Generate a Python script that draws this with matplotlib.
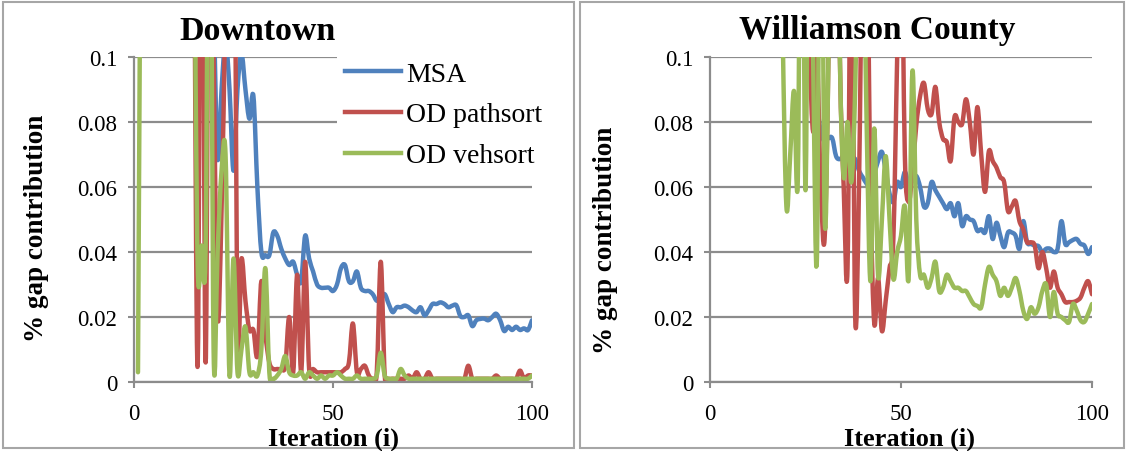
import matplotlib.pyplot as plt
from matplotlib.path import Path
from matplotlib.patches import PathPatch, Rectangle
from matplotlib.lines import Line2D

# iterations 1..100, values (0.2 = off the top of the chart)
iters = list(range(1, 101))

down_msa = [0.2, 0.2, 0.2, 0.2, 0.2, 0.2, 0.2, 0.2, 0.2, 0.2,
            0.2, 0.2, 0.2, 0.2, 0.2, 0.2, 0.2, 0.2, 0.2, 0.12,
            0.069, 0.09, 0.105, 0.09, 0.065, 0.09, 0.101, 0.09, 0.081, 0.088,
            0.06, 0.040, 0.039, 0.039, 0.046, 0.045, 0.041, 0.038, 0.036, 0.037,
            0.033, 0.031, 0.045, 0.038, 0.034, 0.030, 0.029, 0.029, 0.029, 0.028,
            0.030, 0.035, 0.036, 0.031, 0.031, 0.034, 0.029, 0.028, 0.028, 0.027,
            0.025, 0.026, 0.027, 0.024, 0.0215, 0.023, 0.023, 0.0235, 0.023, 0.022,
            0.0215, 0.023, 0.0205, 0.022, 0.024, 0.024, 0.0245, 0.024, 0.023, 0.0235,
            0.0236, 0.0203, 0.020, 0.0205, 0.0172, 0.019, 0.0194, 0.0195, 0.019, 0.020,
            0.021, 0.019, 0.0157, 0.017, 0.016, 0.017, 0.016, 0.0165, 0.016, 0.019]
down_path = [0.2, 0.2, 0.2, 0.2, 0.2, 0.2, 0.2, 0.2, 0.2, 0.2,
             0.2, 0.2, 0.2, 0.2, 0.15, 0.005, 0.2, 0.006, 0.2, 0.1,
             0.02, 0.053, 0.12, 0.2, 0.2, 0.017, 0.038, 0.025, 0.016, 0.016,
             0.008, 0.031, 0.015, 0.006, 0.004, 0.004, 0.004, 0.005, 0.020, 0.003,
             0.033, 0.003, 0.037, 0.004, 0.004, 0.003, 0.003, 0.003, 0.003, 0.003,
             0.003, 0.003, 0.004, 0.006, 0.018, 0.003, 0.004, 0.005, 0.002, 0.001,
             0.003, 0.037, 0.002, 0.001, 0.001, 0.001, 0.001, 0.001, 0.002, 0.001,
             0.003, 0.001, 0.001, 0.003, 0.001, 0.001, 0.001, 0.001, 0.001, 0.001,
             0.001, 0.001, 0.001, 0.005, 0.001, 0.001, 0.001, 0.001, 0.001, 0.001,
             0.002, 0.001, 0.001, 0.001, 0.001, 0.001, 0.0035, 0.001, 0.002, 0.002]
down_veh = [0.003, 0.2, 0.2, 0.2, 0.2, 0.2, 0.2, 0.2, 0.2, 0.2,
            0.2, 0.2, 0.2, 0.2, 0.15, 0.036, 0.042, 0.042, 0.2, 0.010,
            0.04, 0.065, 0.07, 0.002, 0.038, 0.003, 0.01, 0.017, 0.003, 0.003,
            0.002, 0.01, 0.035, 0.003, 0.001, 0.002, 0.004, 0.008, 0.003, 0.002,
            0.002, 0.003, 0.001, 0.003, 0.002, 0.001, 0.002, 0.001, 0.002, 0.002,
            0.003, 0.002, 0.001, 0.001, 0.001, 0.002, 0.001, 0.001, 0.001, 0.001,
            0.002, 0.009, 0.002, 0.001, 0.001, 0.001, 0.004, 0.002, 0.001, 0.001,
            0.001, 0.001, 0.001, 0.001, 0.001, 0.001, 0.001, 0.001, 0.001, 0.001,
            0.001, 0.001, 0.001, 0.001, 0.001, 0.001, 0.001, 0.001, 0.001, 0.001,
            0.001, 0.001, 0.001, 0.001, 0.001, 0.001, 0.001, 0.001, 0.001, 0.002]

will_msa = [0.2, 0.2, 0.2, 0.2, 0.2, 0.2, 0.2, 0.2, 0.2, 0.2,
            0.2, 0.2, 0.2, 0.2, 0.2, 0.2, 0.2, 0.2, 0.2, 0.2,
            0.2, 0.2, 0.2, 0.15, 0.1, 0.094, 0.09, 0.085, 0.077, 0.074,
            0.075, 0.075, 0.0695, 0.0686, 0.07, 0.0726, 0.069, 0.0686, 0.065, 0.063,
            0.061, 0.060, 0.064, 0.068, 0.0708, 0.065, 0.058, 0.0554, 0.0615, 0.06,
            0.0646, 0.061, 0.062, 0.0634, 0.06, 0.054, 0.055, 0.0615, 0.059, 0.057,
            0.055, 0.0532, 0.055, 0.051, 0.055, 0.048, 0.051, 0.050, 0.0495, 0.0465,
            0.047, 0.046, 0.051, 0.044, 0.049, 0.045, 0.0415, 0.046, 0.046, 0.045,
            0.041, 0.0495, 0.043, 0.0425, 0.042, 0.0418, 0.040, 0.041, 0.041, 0.040,
            0.041, 0.0495, 0.0425, 0.043, 0.0437, 0.044, 0.0425, 0.042, 0.0394, 0.0415]
will_path = [0.2, 0.2, 0.2, 0.2, 0.2, 0.2, 0.2, 0.2, 0.2, 0.2,
             0.2, 0.2, 0.2, 0.2, 0.2, 0.2, 0.2, 0.2, 0.2, 0.2,
             0.2, 0.2, 0.2, 0.2, 0.2, 0.11, 0.077, 0.1, 0.06, 0.044,
             0.1, 0.2, 0.2, 0.1, 0.06, 0.035, 0.15, 0.0203, 0.06, 0.15,
             0.15, 0.06, 0.018, 0.032, 0.0157, 0.025, 0.035, 0.044, 0.1, 0.15,
             0.07, 0.0554, 0.065, 0.079, 0.088, 0.092, 0.084, 0.0825, 0.0908, 0.08,
             0.0748, 0.0738, 0.068, 0.0815, 0.080, 0.0794, 0.087, 0.08, 0.070, 0.0846,
             0.07, 0.0585, 0.071, 0.068, 0.066, 0.063, 0.0615, 0.0526, 0.054, 0.0557,
             0.0495, 0.047, 0.043, 0.043, 0.042, 0.035, 0.040, 0.035, 0.029, 0.034,
             0.029, 0.027, 0.0246, 0.0246, 0.0246, 0.025, 0.026, 0.029, 0.031, 0.027]
will_veh = [0.2, 0.2, 0.2, 0.2, 0.2, 0.2, 0.2, 0.2, 0.2, 0.2,
            0.2, 0.2, 0.2, 0.2, 0.2, 0.2, 0.2, 0.2, 0.11, 0.054,
            0.07, 0.0895, 0.063, 0.2, 0.059, 0.2, 0.1, 0.0385, 0.2, 0.051,
            0.1, 0.2, 0.2, 0.1, 0.063, 0.08, 0.0615, 0.09, 0.15, 0.15,
            0.08, 0.031, 0.078, 0.0326, 0.05, 0.0695, 0.05, 0.0317, 0.04, 0.045,
            0.054, 0.032, 0.0957, 0.05, 0.033, 0.033, 0.029, 0.032, 0.037, 0.028,
            0.029, 0.033, 0.031, 0.029, 0.029, 0.028, 0.028, 0.026, 0.024, 0.0234,
            0.023, 0.03, 0.0354, 0.033, 0.031, 0.0265, 0.029, 0.0265, 0.029, 0.032,
            0.028, 0.022, 0.0194, 0.023, 0.021, 0.023, 0.028, 0.030, 0.020, 0.0277,
            0.021, 0.020, 0.019, 0.0185, 0.024, 0.022, 0.019, 0.0185, 0.021, 0.024]

names = ['MSA', 'OD pathsort', 'OD vehsort']
colors = ['#4F81BD', '#C0504D', '#9BBB59']
yticks = [0, 0.02, 0.04, 0.06, 0.08, 0.1]
ylabels = ['0', '0.02', '0.04', '0.06', '0.08', '0.1']
xticks = [0, 50, 100]

W, H = 1127, 452
FONT = 'Liberation Serif'
GRAY = '#8c8c8c'
LW = 3.2


# excel style smoothed line (bezier through every point)
def smooth_path(x, y):
    n = len(x)
    verts = [(x[0], y[0])]
    codes = [Path.MOVETO]
    for i in range(n - 1):
        a = max(i - 1, 0)
        b = min(i + 2, n - 1)
        c1 = (x[i] + (x[i + 1] - x[a]) / 6, y[i] + (y[i + 1] - y[a]) / 6)
        c2 = (x[i + 1] - (x[b] - x[i]) / 6, y[i + 1] - (y[b] - y[i]) / 6)
        verts += [c1, c2, (x[i + 1], y[i + 1])]
        codes += [Path.CURVE4] * 3
    return Path(verts, codes)


def setup(ax):
    ax.set_xlim(0, 100)
    ax.set_ylim(0, 0.1)
    ax.set_yticks(yticks)
    ax.set_yticklabels(ylabels)
    ax.set_xticks(xticks)
    for s in ['top', 'right']:
        ax.spines[s].set_visible(False)
    for s in ['left', 'bottom']:
        ax.spines[s].set_color(GRAY)
        ax.spines[s].set_linewidth(1.6)
    ax.grid(axis='y', color=GRAY, lw=1.6)
    ax.set_axisbelow(True)
    ax.tick_params(axis='y', length=4, width=1.5, color=GRAY, pad=8, labelsize=16.5)
    ax.tick_params(axis='x', length=4, width=1.5, color=GRAY, pad=11, labelsize=16.5)
    for t in ax.get_xticklabels() + ax.get_yticklabels():
        t.set_fontfamily(FONT)


def draw(ax, series):
    for vals, c in zip(series, colors):
        p = PathPatch(smooth_path(iters, vals), fill=False, ec=c, lw=LW,
                      joinstyle='round', capstyle='round')
        ax.add_patch(p)


fig = plt.figure(figsize=(W / 100, H / 100), dpi=100)

# panel frames
for x0, x1 in [(3, 574), (580, 1124)]:
    fig.patches.append(Rectangle((x0 / W, 3 / H), (x1 - x0) / W, (449 - 3) / H,
                                 transform=fig.transFigure, fill=False,
                                 ec='#a6a6a6', lw=1.5))

ax1 = fig.add_axes([134 / W, 69 / H, 398 / W, 325 / H])
ax2 = fig.add_axes([710 / W, 69 / H, 382 / W, 325 / H])
setup(ax1)
setup(ax2)
draw(ax1, [down_msa, down_path, down_veh])
draw(ax2, [will_msa, will_path, will_veh])

handles = [Line2D([], [], color=c, lw=LW) for c in colors]
leg = ax1.legend(handles, names, loc='upper left', bbox_to_anchor=(337 / W, 1 - 54 / H),
                 bbox_transform=fig.transFigure, frameon=True, fancybox=False,
                 facecolor='white', edgecolor='none', framealpha=1,
                 prop={'family': FONT, 'size': 20}, handlelength=2.0,
                 handletextpad=0.2, labelspacing=0.55, borderpad=0.3,
                 borderaxespad=0)
leg.set_zorder(5)

fig.text(258 / W, 1 - 31 / H, 'Downtown', ha='center', va='center',
         family=FONT, weight='bold', size=24.5)
fig.text(877 / W, 1 - 31 / H, 'Williamson County', ha='center', va='center',
         family=FONT, weight='bold', size=24)
fig.text(333 / W, 1 - 439 / H, 'Iteration (i)', ha='center', va='center',
         family=FONT, weight='bold', size=19)
fig.text(909 / W, 1 - 439 / H, 'Iteration (i)', ha='center', va='center',
         family=FONT, weight='bold', size=19)
fig.text(37 / W, 1 - 228 / H, '% gap contribution', ha='center', va='center',
         rotation=90, family=FONT, weight='bold', size=19.5)
fig.text(606 / W, 1 - 240 / H, '% gap contribution', ha='center', va='center',
         rotation=90, family=FONT, weight='bold', size=19.5)

fig.savefig('out.png', dpi=100)
